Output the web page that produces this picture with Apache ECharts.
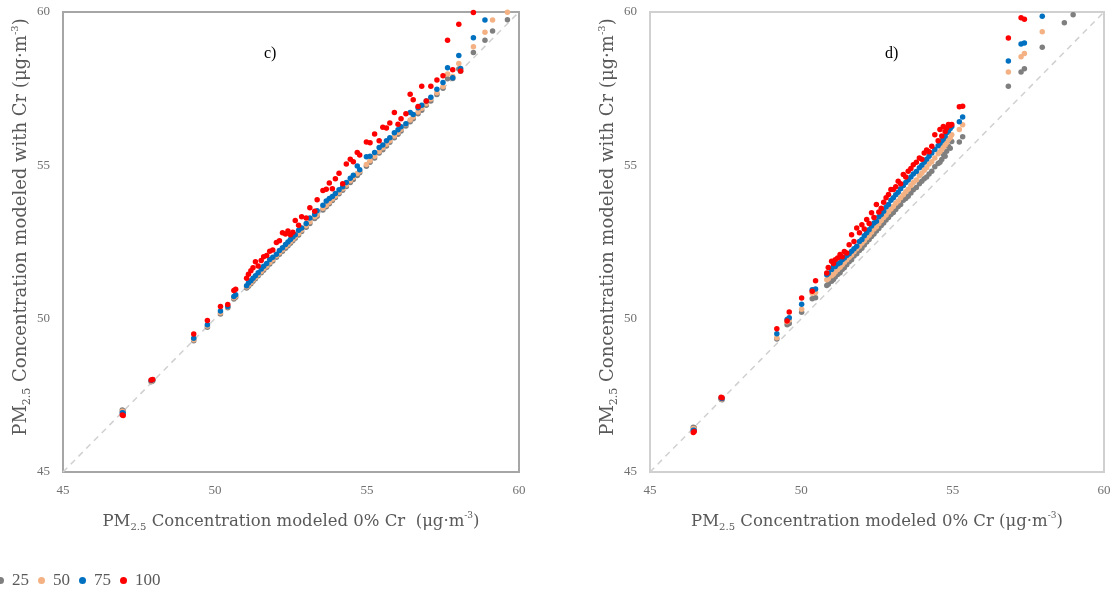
<!DOCTYPE html>
<html>
<head>
<meta charset="utf-8">
<script src="https://cdn.jsdelivr.net/npm/echarts@6/dist/echarts.min.js"></script>
<style>html,body{margin:0;padding:0;background:#fff;}#chart{width:1117px;height:598px;}</style>
</head>
<body>
<div id="chart"></div>
<script>
// ---------- DATA ----------
var seriesNames = ['25', '50', '75', '100'];
var axisTicks = [45, 50, 55, 60];

// Panel c) : x = PM2.5 modeled 0% Cr
var cX = [46.95, 46.98, 47.90, 47.95, 49.30, 49.75, 50.18, 50.42, 50.62, 50.68, 51.04, 51.10, 51.18, 51.25, 51.33, 51.42, 51.52, 51.60, 51.70, 51.80, 51.90, 52.02, 52.12, 52.22, 52.32, 52.40, 52.48, 52.56, 52.64, 52.75, 52.85, 53.00, 53.12, 53.28, 53.36, 53.55, 53.66, 53.76, 53.86, 53.96, 54.08, 54.20, 54.32, 54.45, 54.55, 54.68, 54.76, 54.98, 55.10, 55.25, 55.40, 55.52, 55.64, 55.75, 55.90, 56.02, 56.12, 56.28, 56.42, 56.52, 56.68, 56.80, 56.95, 57.10, 57.30, 57.50, 57.65, 57.82, 58.02, 58.08, 58.50, 58.88, 59.13, 59.62];
var c25 = [47.02, 46.99, 47.94, 47.97, 49.28, 49.72, 50.15, 50.36, 50.64, 50.70, 51.00, 51.06, 51.14, 51.22, 51.30, 51.40, 51.50, 51.58, 51.68, 51.78, 51.88, 52.00, 52.10, 52.20, 52.30, 52.38, 52.46, 52.54, 52.62, 52.73, 52.84, 52.98, 53.10, 53.27, 53.34, 53.54, 53.65, 53.75, 53.85, 53.95, 54.07, 54.19, 54.31, 54.44, 54.54, 54.67, 54.76, 54.97, 55.10, 55.24, 55.40, 55.51, 55.63, 55.75, 55.90, 56.01, 56.12, 56.28, 56.42, 56.52, 56.68, 56.80, 56.96, 57.10, 57.31, 57.51, 57.82, 57.83, 58.14, 58.07, 58.68, 59.08, 59.38, 59.75];
var c50 = [46.98, 46.96, 47.96, 47.99, 49.31, 49.76, 50.19, 50.39, 50.68, 50.73, 51.04, 51.10, 51.18, 51.26, 51.34, 51.44, 51.54, 51.63, 51.72, 51.83, 51.93, 52.05, 52.15, 52.25, 52.35, 52.43, 52.51, 52.59, 52.67, 52.78, 52.89, 53.03, 53.16, 53.32, 53.39, 53.60, 53.70, 53.80, 53.90, 54.00, 54.12, 54.24, 54.36, 54.50, 54.60, 54.73, 54.81, 55.03, 55.15, 55.30, 55.45, 55.57, 55.69, 55.80, 55.96, 56.07, 56.18, 56.34, 56.48, 56.58, 56.74, 56.86, 57.01, 57.16, 57.37, 57.57, 57.98, 57.90, 58.32, 58.12, 58.87, 59.34, 59.74, 59.99];
var c75 = [46.93, 46.92, 47.98, 48.01, 49.36, 49.80, 50.25, 50.40, 50.72, 50.78, 51.07, 51.16, 51.24, 51.32, 51.40, 51.50, 51.62, 51.71, 51.80, 51.93, 52.00, 52.10, 52.22, 52.31, 52.42, 52.50, 52.58, 52.66, 52.74, 52.88, 52.96, 53.10, 53.28, 53.40, 53.52, 53.70, 53.84, 53.92, 53.98, 54.08, 54.20, 54.30, 54.44, 54.58, 54.68, 54.98, 54.86, 55.28, 55.30, 55.42, 55.58, 55.66, 55.80, 55.90, 56.06, 56.16, 56.26, 56.36, 56.72, 56.66, 56.88, 56.96, 57.10, 57.22, 57.48, 57.70, 58.18, 57.86, 58.58, 58.16, 59.16, 59.74, null, null];
var c100 = [46.86, 46.84, 48.00, 48.02, 49.50, 49.94, 50.40, 50.46, 50.92, 50.96, 51.32, 51.45, 51.56, 51.66, 51.86, 51.72, 51.90, 52.02, 52.06, 52.20, 52.24, 52.48, 52.54, 52.80, 52.76, 52.86, 52.74, 52.82, 53.20, 53.05, 53.32, 53.28, 53.62, 53.50, 53.88, 54.18, 54.22, 54.42, 54.24, 54.56, 54.74, 54.40, 55.04, 55.20, 55.12, 55.42, 55.34, 55.76, 55.74, 56.02, 55.80, 56.24, 56.22, 56.38, 56.72, 56.34, 56.52, 56.68, 57.32, 57.14, 56.92, 57.58, 57.10, 57.58, 57.78, 57.92, 59.08, 58.12, 59.60, 58.08, 59.98, null, null, null];

// Panel d) : x = PM2.5 modeled 0% Cr
var dX = [46.43, 46.46, 47.35, 47.38, 49.19, 49.53, 49.60, 50.01, 50.36, 50.47, 50.84, 50.89, 51.00, 51.06, 51.12, 51.20, 51.28, 51.35, 51.42, 51.50, 51.58, 51.66, 51.74, 51.83, 51.92, 52.00, 52.08, 52.16, 52.24, 52.32, 52.40, 52.48, 52.56, 52.64, 52.72, 52.80, 52.88, 52.96, 53.04, 53.12, 53.20, 53.28, 53.37, 53.45, 53.53, 53.62, 53.70, 53.80, 53.90, 53.98, 54.06, 54.14, 54.22, 54.31, 54.41, 54.52, 54.58, 54.64, 54.69, 54.75, 54.80, 54.86, 54.92, 54.97, 55.22, 55.33, 56.84, 57.26, 57.37, 57.96, 58.69, 58.98];
var d25 = [46.46, 46.44, 47.37, 47.36, 49.34, 49.80, 49.84, 50.21, 50.65, 50.68, 51.08, 51.12, 51.22, 51.28, 51.36, 51.44, 51.50, 51.60, 51.66, 51.76, 51.86, 51.92, 52.04, 52.12, 52.22, 52.30, 52.40, 52.50, 52.58, 52.68, 52.76, 52.86, 52.94, 53.04, 53.12, 53.22, 53.30, 53.40, 53.46, 53.56, 53.66, 53.72, 53.86, 53.92, 53.99, 54.10, 54.20, 54.28, 54.40, 54.48, 54.56, 54.62, 54.72, 54.81, 54.95, 55.06, 55.10, 55.19, 55.35, 55.30, 55.46, 55.62, 55.56, 55.78, 55.76, 55.93, 57.58, 58.04, 58.15, 58.85, 59.65, 59.91];
var d50 = [46.42, 46.40, 47.39, 47.38, 49.38, 49.90, 49.96, 50.31, 50.83, 50.85, 51.27, 51.30, 51.40, 51.45, 51.52, 51.60, 51.68, 51.76, 51.84, 51.92, 52.00, 52.08, 52.18, 52.28, 52.36, 52.46, 52.54, 52.64, 52.72, 52.82, 52.92, 53.00, 53.10, 53.20, 53.30, 53.38, 53.48, 53.58, 53.66, 53.76, 53.84, 53.94, 54.04, 54.14, 54.22, 54.34, 54.44, 54.52, 54.66, 54.74, 54.84, 54.92, 55.04, 55.12, 55.24, 55.38, 55.44, 55.52, 55.60, 55.66, 55.74, 55.84, 55.90, 56.00, 56.17, 56.32, 58.04, 58.54, 58.65, 59.36, null, null];
var d75 = [46.36, 46.35, 47.41, 47.40, 49.51, 49.97, 50.03, 50.47, 50.94, 50.97, 51.43, 51.48, 51.60, 51.71, 51.70, 51.78, 51.82, 51.92, 51.98, 52.06, 52.12, 52.20, 52.28, 52.36, 52.52, 52.58, 52.70, 52.80, 52.90, 53.02, 53.12, 53.18, 53.32, 53.40, 53.50, 53.64, 53.72, 53.86, 53.94, 54.04, 54.12, 54.24, 54.34, 54.44, 54.52, 54.62, 54.72, 54.80, 54.92, 55.00, 55.10, 55.20, 55.30, 55.40, 55.52, 55.64, 55.72, 55.80, 55.86, 55.95, 56.06, 56.12, 56.20, 56.27, 56.42, 56.58, 58.40, 58.96, 58.99, 59.86, null, null];
var d100 = [46.29, 46.32, 47.44, 47.42, 49.67, 49.92, 50.22, 50.67, 50.89, 51.24, 51.49, 51.67, 51.87, 51.80, 51.92, 51.98, 52.09, 52.02, 52.19, 52.14, 52.41, 52.74, 52.52, 52.96, 52.80, 53.06, 52.92, 53.23, 53.10, 53.45, 53.30, 53.72, 53.48, 53.60, 53.80, 53.94, 54.05, 54.21, 54.21, 54.30, 54.48, 54.40, 54.70, 54.62, 54.81, 54.90, 55.02, 55.10, 55.24, 55.20, 55.40, 55.50, 55.44, 55.62, 56.00, 55.80, 56.17, 55.96, 56.27, 56.10, 56.22, 56.33, 56.30, 56.33, 56.91, 56.93, 59.15, 59.81, 59.76, null, null, null];

// 1:1 reference line end points
var diagonal = [[45, 45], [60, 60]];

// ---------- STYLE ----------
var colors = ['#7f7f7f', '#f4b183', '#0070c0', '#ff0000'];
var FONT = '"Liberation Serif", "DejaVu Serif", serif';
var NAMEFONT = '"DejaVu Serif", "Liberation Serif", serif';
var nameColor = '#595959';
var tickColor = '#707070';

function pairs(xs, ys) {
  var out = [];
  for (var i = 0; i < xs.length; i++) {
    if (ys[i] !== null && ys[i] !== undefined) out.push([xs[i], ys[i]]);
  }
  return out;
}

function richFor(size) {
  return {
    a: { fontSize: size, fontFamily: NAMEFONT, color: nameColor, lineHeight: Math.round(size * 1.3) },
    b: { fontSize: Math.round(size * 0.62), fontFamily: NAMEFONT, color: nameColor, lineHeight: Math.round(size * 0.62), verticalAlign: 'bottom' },
    c: { fontSize: Math.round(size * 0.56), fontFamily: NAMEFONT, color: nameColor, lineHeight: Math.round(size * 0.56), verticalAlign: 'top' }
  };
}

function xAxisCfg(idx, name) {
  return {
    gridIndex: idx, type: 'value', min: axisTicks[0], max: axisTicks[axisTicks.length - 1], interval: 5,
    axisLine: { show: false }, axisTick: { show: false }, splitLine: { show: false },
    axisLabel: { color: tickColor, fontSize: 13, fontFamily: FONT, margin: 12 },
    name: name, nameLocation: 'middle', nameGap: 39,
    nameTextStyle: { rich: richFor(16.5) }
  };
}
function yAxisCfg(idx) {
  return {
    gridIndex: idx, type: 'value', min: axisTicks[0], max: axisTicks[axisTicks.length - 1], interval: 5,
    axisLine: { show: false }, axisTick: { show: false }, splitLine: { show: false },
    axisLabel: { color: tickColor, fontSize: 13, fontFamily: FONT, margin: 13 },
    name: '{a|PM}{b|2.5}{a| Concentration modeled with Cr (μg·m}{c|-3}{a|)}',
    nameLocation: 'middle', nameGap: 30,
    nameTextStyle: { rich: richFor(18), padding: [0, 0, 0, 30] }
  };
}

var series = [];
var cSets = [c25, c50, c75, c100];
var dSets = [d25, d50, d75, d100];
[0, 1].forEach(function (g) {
  series.push({
    type: 'line', xAxisIndex: g, yAxisIndex: g, data: diagonal, symbol: 'none', silent: true,
    lineStyle: { color: '#d0d0d0', width: 1.5, type: [6, 5] }, z: 1
  });
});
seriesNames.forEach(function (nm, i) {
  series.push({
    name: nm, type: 'scatter', xAxisIndex: 0, yAxisIndex: 0, data: pairs(cX, cSets[i]),
    symbol: 'circle', symbolSize: 5.5, itemStyle: { color: colors[i], opacity: 1 }, z: 2 + i
  });
  series.push({
    name: nm, type: 'scatter', xAxisIndex: 1, yAxisIndex: 1, data: pairs(dX, dSets[i]),
    symbol: 'circle', symbolSize: 5.5, itemStyle: { color: colors[i], opacity: 1 }, z: 2 + i
  });
});

var option = {
  animation: false,
  backgroundColor: '#ffffff',
  color: colors,
  title: [
    { text: 'c)', left: 259, top: 41, textStyle: { fontFamily: FONT, fontSize: 16, fontWeight: 'normal', color: '#000' } },
    { text: 'd)', left: 880, top: 41, textStyle: { fontFamily: FONT, fontSize: 16, fontWeight: 'normal', color: '#000' } }
  ],
  legend: {
    data: seriesNames, icon: 'circle', itemWidth: 13, itemHeight: 7, itemGap: 9,
    left: -3, top: 572, padding: 0,
    textStyle: { fontFamily: FONT, fontSize: 17, color: nameColor }
  },
  grid: [
    { left: 63, top: 12, width: 456, height: 460, show: true, borderColor: '#a6a6a6', borderWidth: 2, backgroundColor: 'transparent' },
    { left: 650, top: 12, width: 454, height: 460, show: true, borderColor: '#d0d0d0', borderWidth: 2, backgroundColor: 'transparent' }
  ],
  xAxis: [
    xAxisCfg(0, '{a|PM}{b|2.5}{a| Concentration modeled 0% Cr  (μg·m}{c|-3}{a|)}'),
    xAxisCfg(1, '{a|PM}{b|2.5}{a| Concentration modeled 0% Cr (μg·m}{c|-3}{a|)}')
  ],
  yAxis: [yAxisCfg(0), yAxisCfg(1)],
  series: series
};

var chart = echarts.init(document.getElementById('chart'), null, { renderer: 'canvas' });
chart.setOption(option);
</script>
</body>
</html>
